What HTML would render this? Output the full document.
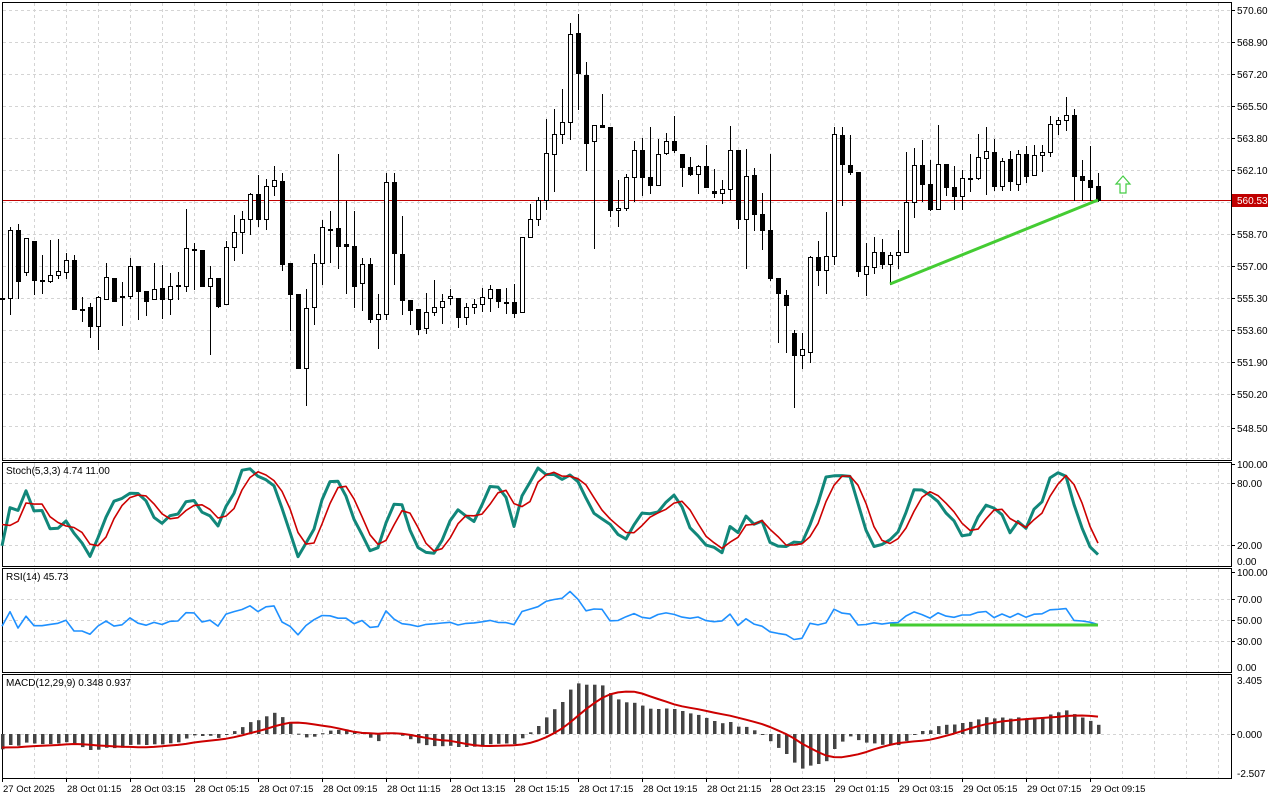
<!DOCTYPE html>
<html><head><meta charset="utf-8"><style>
html,body{margin:0;padding:0;background:#fff;}
svg{display:block;font-family:"Liberation Sans",sans-serif;font-size:10px;}
</style></head><body>
<svg id="c" width="1280" height="800" xmlns="http://www.w3.org/2000/svg"></svg>
<script>
var D=[[298,298,296,300],
[298,230,227,314],[230,281,224,298],[272,238,238,275],[241,280,241,294],[280,280,255,293],[281,275,240,282],[275,271,239,278],[272,260,253,278],[260,309,255,309],[309,309,297,321],
[307,326,303,337],[326,297,296,349],[299,277,263,299],[278,301,278,301],[296,296,282,325],[296,266,258,298],[266,291,266,319],[291,301,291,315],[299,289,263,299],[288,299,265,318],
[299,286,273,314],[285,285,272,299],[286,248,209,291],[249,249,243,289],[250,286,250,286],[286,278,266,354],[278,306,278,307],[304,247,241,304],[247,232,215,260],[232,219,211,253],
[219,194,193,234],[194,219,175,226],[219,186,179,229],[186,180,166,195],[181,264,173,270],[263,294,263,330],[294,368,294,368],[368,308,289,405],[307,263,254,324],[263,227,220,284],
[229,229,211,262],[228,246,154,268],[244,246,201,293],[246,286,211,307],[283,264,258,310],[264,319,258,322],[319,314,294,348],[314,182,173,319],[182,253,173,284],[254,300,216,314],
[300,310,300,324],[309,329,309,334],[328,312,293,333],[312,307,280,315],[307,301,294,323],[298,296,289,304],[298,317,298,327],[317,307,303,324],[307,304,299,313],[304,297,288,311],
[298,289,285,311],[289,301,289,307],[302,302,288,313],[302,313,284,317],[312,237,237,312],[237,219,204,237],[219,200,197,225],[200,153,119,209],[154,134,109,191],[134,122,89,143],
[122,34,23,139],[33,73,14,109],[75,143,62,170],[141,125,125,248],[125,127,94,127],[127,210,127,216],[210,208,180,226],[208,177,174,210],[177,150,141,201],[150,177,138,195],
[177,185,127,193],[185,154,139,185],[153,141,133,154],[141,150,116,152],[154,167,154,186],[167,174,157,175],[174,166,165,193],[166,187,145,187],[191,193,169,197],[193,189,180,203],
[189,150,126,199],[150,219,150,228],[219,176,149,268],[175,214,168,230],[214,230,193,249],[230,278,154,280],[278,293,278,342],[295,305,290,352],[333,355,330,407],[355,349,333,368],
[352,257,256,362],[257,270,241,285],[270,256,212,293],[256,134,127,264],[135,164,127,205],[165,172,135,174],[172,271,172,276],[274,266,243,295],[267,252,237,273],[252,264,239,268],
[264,255,252,284],[255,252,230,268],[252,202,152,252],[202,165,148,217],[165,184,140,201],[184,209,160,210],[209,164,125,209],[164,187,164,195],[187,196,166,209],[196,178,170,209],
[178,178,154,191],[178,157,134,179],[158,151,127,194],[152,186,139,190],[186,161,158,190],[159,181,151,190],[184,154,150,190],[154,176,146,182],[175,155,145,175],[155,152,145,171],
[152,124,116,156],[124,120,117,134],[120,115,97,130],[115,176,109,200],[176,180,160,200],[180,187,146,200],[186,200,173,201]];
var s='';
function P(y){return 570.6-(y-10)/18.914;}
function X(i){return 2+8*i;}
var g='#d4d4d4';
function vgrid(y1,y2){for(var x=34;x<1231;x+=32)s+='<line x1="'+x+'.5" y1="'+y1+'" x2="'+x+'.5" y2="'+y2+'" stroke="'+g+'" stroke-dasharray="3,3"/>';}
function hline(y,x2){s+='<line x1="3" y1="'+y+'.5" x2="'+(x2||1231)+'" y2="'+y+'.5" stroke="'+g+'" stroke-dasharray="3,3"/>';}
vgrid(3,460);vgrid(463,566);vgrid(569,672);vgrid(675,778);
for(var y=10;y<460;y+=32)hline(y);
hline(483);hline(545);hline(599);hline(620);hline(641);hline(734);
[[2,2,460],[2,462,566],[2,568,672],[2,674,778]].forEach(function(b){s+='<rect x="2.5" y="'+(b[1]+.5)+'" width="1229" height="'+(b[2]-b[1])+'" fill="none" stroke="#000"/>';});
s+='<line x1="3" y1="200.5" x2="1231" y2="200.5" stroke="#c00000"/>';
for(var i=0;i<D.length;i++){var d=D[i],x=X(i),o=d[0],c=d[1],h=d[2],l=d[3];
 s+='<line x1="'+(x+.5)+'" y1="'+h+'" x2="'+(x+.5)+'" y2="'+(l+1)+'" stroke="#000"/>';
 var t=Math.min(o,c),bt=Math.max(o,c);
 if(bt-t<2){s+='<rect x="'+(x-2)+'" y="'+t+'" width="5" height="'+Math.max(2,bt-t)+'" fill="#000"/>';}
 else if(c<o){s+='<rect x="'+(x-1.5)+'" y="'+(t+.5)+'" width="4" height="'+(bt-t)+'" fill="#fff" stroke="#000"/>';}
 else s+='<rect x="'+(x-2)+'" y="'+t+'" width="5" height="'+(bt-t+1)+'" fill="#000"/>';
}
s+='<line x1="890" y1="284" x2="1098" y2="200" stroke="#44cc33" stroke-width="3"/>';
s+='<polygon points="1123,176 1130,184 1126,184 1126,193 1120,193 1120,184 1116,184" fill="#fff" stroke="#44cc44" stroke-width="1.2"/>';
var C=[],H=[],L=[];
for(var k=0;k<40;k++){var v=560.6-4.2*k/40+0.5*Math.sin(k*0.9);C.push(v);H.push(v+0.45);L.push(v-0.45);}
var N0=C.length;
for(var i=0;i<D.length;i++){C.push(P(D[i][1]));H.push(P(D[i][2]));L.push(P(D[i][3]));}
var n=C.length,K=[],Dd=[],R=[],M=[],S=[];
var num=[],den=[];
for(var i=0;i<n;i++){var hh=-1e9,ll=1e9;for(var j=Math.max(0,i-4);j<=i;j++){hh=Math.max(hh,H[j]);ll=Math.min(ll,L[j]);}num.push(C[i]-ll);den.push(hh-ll);
 var a=0,b=0;for(var j=Math.max(0,i-2);j<=i;j++){a+=num[j];b+=den[j];}K.push(b>0?100*a/b:50);
 var m=0,cn=0;for(var j=Math.max(0,i-2);j<=i;j++){m+=K[j];cn++;}Dd.push(m/cn);}
var ag=0,al=0;R.push(50);
for(var i=1;i<n;i++){var ch=C[i]-C[i-1],gg=ch>0?ch:0,lo=ch<0?-ch:0;if(i<=14){ag+=gg/14;al+=lo/14;}else{ag=(ag*13+gg)/14;al=(al*13+lo)/14;}R.push(al==0?100:100-100/(1+ag/al));}
R[N0]=44;
var e1=C[0],e2=C[0];
for(var i=0;i<n;i++){e1+= (C[i]-e1)*2/13;e2+=(C[i]-e2)*2/30;M.push(e1-e2);var m=0,cn=0;for(var j=Math.max(0,i-8);j<=i;j++){m+=M[j];cn++;}S.push(m/cn);}
function path(arr,fy,col,w){var p='';for(var i=N0;i<n;i++){p+=(i==N0?'M':'L')+X(i-N0)+','+fy(arr[i]).toFixed(1);}s+='<path d="'+p+'" fill="none" stroke="'+col+'" stroke-width="'+w+'" stroke-linejoin="round"/>';}
var sy=function(v){return 566-v*1.04;};
path(K,sy,'#11877a',3);path(Dd,sy,'#cc0000',1.6);
path(R,function(v){return 672-v*1.04;},'#1e90ff',1.6);
s+='<line x1="890" y1="625" x2="1098" y2="625" stroke="#44cc33" stroke-width="3"/>';
var my=function(v){return 734-v*17.4;};
for(var i=N0;i<n;i++){var x=X(i-N0),y=my(M[i]);s+='<rect x="'+(x-1)+'" y="'+Math.min(734,y).toFixed(1)+'" width="3.5" height="'+Math.max(1,Math.abs(y-734)).toFixed(1)+'" fill="#444"/>';}
path(S,my,'#cc0000',2);
s+='<text x="6" y="474">Stoch(5,3,3) 4.74 11.00</text><text x="6" y="580">RSI(14) 45.73</text><text x="6" y="686">MACD(12,29,9) 0.348 0.937</text>';
var vals=['570.60','568.90','567.20','565.50','563.80','562.10','','558.70','557.00','555.30','553.60','551.90','550.20','548.50'];
var ys=[10,42,74,106,138,170,null,234,266,298,330,362,394,428];
for(var k=0;k<14;k++){if(ys[k]==null)continue;s+='<line x1="1231" y1="'+ys[k]+'.5" x2="1235" y2="'+ys[k]+'.5" stroke="#000"/><text x="1237" y="'+(ys[k]+4)+'">'+vals[k]+'</text>';}
s+='<rect x="1232" y="194" width="36" height="13" fill="#c00000"/><text x="1237" y="204" fill="#fff">560.53</text>';
function al2(y,t){s+='<line x1="1231" y1="'+y+'.5" x2="1235" y2="'+y+'.5" stroke="#000"/><text x="1237" y="'+(y+4)+'">'+t+'</text>';}
al2(464,'100.00');al2(483,'80.00');al2(545,'20.00');s+='<text x="1237" y="565">0.00</text>';
al2(572,'100.00');al2(599,'70.00');al2(620,'50.00');al2(641,'30.00');s+='<text x="1237" y="671">0.00</text>';
s+='<text x="1237" y="684">3.405</text>';al2(734,'0.000');s+='<text x="1237" y="777">-2.507</text>';
var tl=['27 Oct 2025','28 Oct 01:15','28 Oct 03:15','28 Oct 05:15','28 Oct 07:15','28 Oct 09:15','28 Oct 11:15','28 Oct 13:15','28 Oct 15:15','28 Oct 17:15','28 Oct 19:15','28 Oct 21:15','28 Oct 23:15','29 Oct 01:15','29 Oct 03:15','29 Oct 05:15','29 Oct 07:15','29 Oct 09:15'];
for(var k=0;k<tl.length;k++){var x=2+64*k;s+='<line x1="'+x+'.5" y1="778" x2="'+x+'.5" y2="782" stroke="#000"/><text x="'+(x+1)+'" y="792" font-size="9.5">'+tl[k]+'</text>';}
document.getElementById('c').innerHTML=s;
</script>
</body></html>
